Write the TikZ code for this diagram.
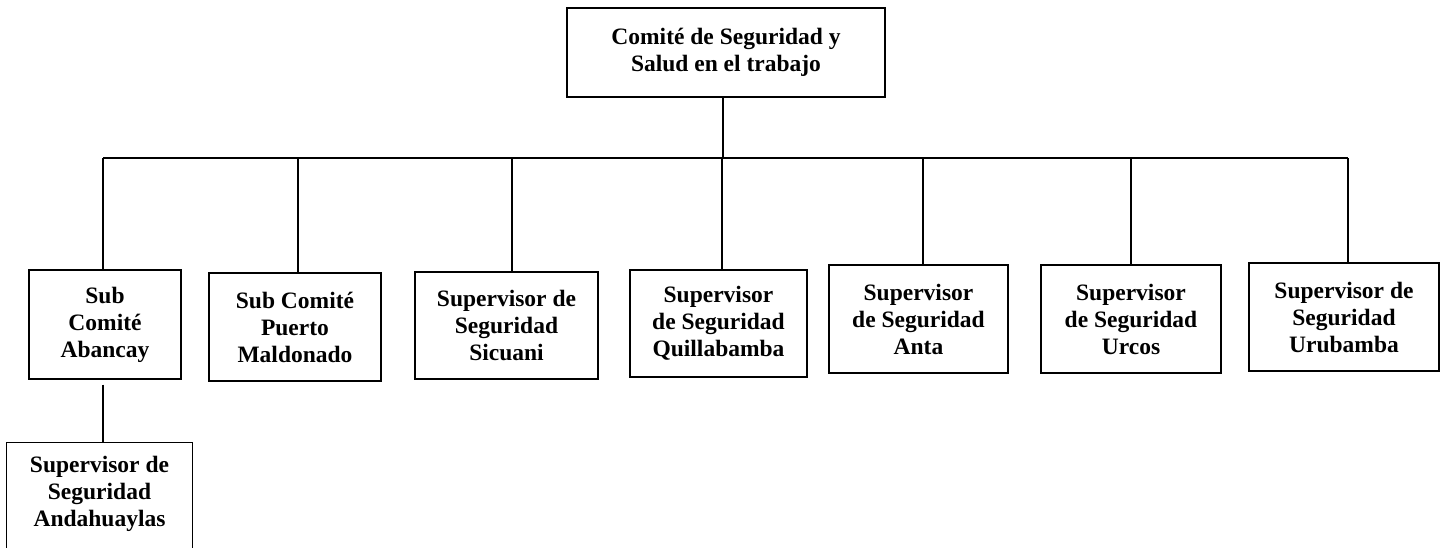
\documentclass[tikz,border=0pt]{standalone}
\usepackage{fontspec}
\setmainfont{Liberation Serif}
\begin{document}
\begin{tikzpicture}[x=1pt,y=-1pt,
  box/.style={draw, line width=1.1pt, align=center, inner sep=0pt,
    font=\bfseries\fontsize{23.5}{27}\selectfont},
  conn/.style={line width=2pt}]
\useasboundingbox (0,0) rectangle (1440,547);
% top
\node[box, minimum width=318pt, minimum height=89pt] (top) at (726,52.5) {Comité de Seguridad y\\Salud en el trabajo};
% children
\node[box, minimum width=152pt, minimum height=109pt] (aba) at (105,324.5) {Sub\\Comité\\Abancay};
\node[box, minimum width=172pt, minimum height=108pt] (pue) at (295,327) {Sub Comité\\Puerto\\Maldonado};
\node[box, minimum width=183pt, minimum height=107pt] (sic) at (506.5,325.5) {Supervisor de\\Seguridad\\Sicuani};
\node[box, minimum width=177pt, minimum height=107pt] (qui) at (718.5,323.5) {Supervisor\\de Seguridad\\Quillabamba};
\node[box, minimum width=179pt, minimum height=108pt] (ant) at (918.5,319) {Supervisor\\de Seguridad\\Anta};
\node[box, minimum width=180pt, minimum height=108pt] (urc) at (1131,319) {Supervisor\\de Seguridad\\Urcos};
\node[box, minimum width=190pt, minimum height=108pt] (uru) at (1344,317) {Supervisor de\\Seguridad\\Urubamba};
% Andahuaylas (bottom edge cut by the page)
\node[box, draw=none, minimum width=185pt, minimum height=102pt] (and) at (99.5,494) {Supervisor de\\Seguridad\\Andahuaylas};
\draw[line width=1.1pt] ([yshift=-3pt]and.south west) -- (and.north west) -- (and.north east) -- ([yshift=-3pt]and.south east);
% bus
\coordinate (bT) at (723,158);
\coordinate (b1) at (103,158);
\coordinate (b2) at (298,158);
\coordinate (b3) at (512,158);
\coordinate (b4) at (722,158);
\coordinate (b5) at (923,158);
\coordinate (b6) at (1131,158);
\coordinate (b7) at (1348,158);
\draw[conn] (top.south -| bT) -- (bT);
\draw[conn] (b1) -- (b7);
\draw[conn] (b1) -- (b1 |- aba.north);
\draw[conn] (b2) -- (b2 |- pue.north);
\draw[conn] (b3) -- (b3 |- sic.north);
\draw[conn] (b4) -- (b4 |- qui.north);
\draw[conn] (b5) -- (b5 |- ant.north);
\draw[conn] (b6) -- (b6 |- urc.north);
\draw[conn] (b7) -- (b7 |- uru.north);
\draw[conn] ([yshift=-5pt]b1 |- aba.south) -- (b1 |- and.north);
\end{tikzpicture}
\end{document}
